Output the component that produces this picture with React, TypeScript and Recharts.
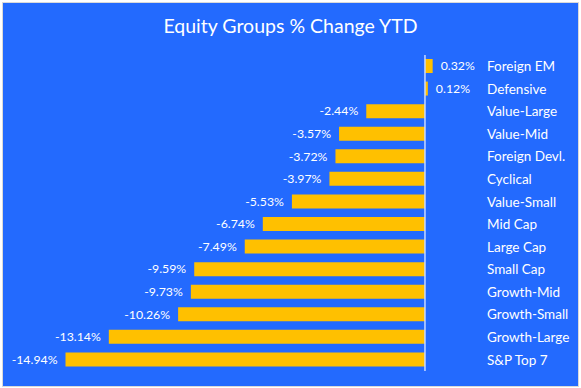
import React from 'react';
import { BarChart, Bar, XAxis, YAxis, ReferenceLine, LabelList } from 'recharts';

const categories = [
  'Foreign EM', 'Defensive', 'Value-Large', 'Value-Mid', 'Foreign Devl.', 'Cyclical',
  'Value-Small', 'Mid Cap', 'Large Cap', 'Small Cap', 'Growth-Mid', 'Growth-Small',
  'Growth-Large', 'S&P Top 7',
];
const values = [0.32, 0.12, -2.44, -3.57, -3.72, -3.97, -5.53, -6.74, -7.49, -9.59, -9.73, -10.26, -13.14, -14.94];
const title = 'Equity Groups % Change YTD';

const data = categories.map((name, i) => ({ name, value: values[i] }));

const FONT = 'Lato, "Open Sans", sans-serif';

const ValueLabel = (props: any) => {
  const { x, y, width, height, value } = props;
  const left = Math.min(x, x + width);
  const right = Math.max(x, x + width);
  const cy = y + height / 2;
  const pos = value >= 0;
  return (
    <text
      x={pos ? right + 8 : left - 8}
      y={cy}
      dy="0.35em"
      textAnchor={pos ? 'start' : 'end'}
      fill="#ffffff"
      fontSize={12.3}
      fontFamily={FONT}
    >
      {value.toFixed(2) + '%'}
    </text>
  );
};

export default function App() {
  return (
    <div style={{ position: 'fixed', left: 0, top: 0, width: 581, height: 388, background: '#ffffff' }}>
      <div
        style={{
          position: 'absolute', left: 2, top: 2, width: 575, height: 383,
          border: '1px solid #d9d9d9', background: '#236AFE',
        }}
      />
      <div
        style={{
          position: 'absolute', left: 0, top: 14, width: 581, textAlign: 'center',
          color: '#ffffff', fontFamily: FONT, fontSize: 19.5,
        }}
      >
        {title}
      </div>
      <div style={{ position: 'absolute', left: 0, top: 0 }}>
        <BarChart
          width={581}
          height={388}
          data={data}
          layout="vertical"
          margin={{ top: 55, right: 0, bottom: 17, left: 40 }}
          barCategoryGap={0}
        >
          <XAxis type="number" domain={[-16, 0.5]} hide allowDataOverflow />
          <YAxis
            type="category"
            dataKey="name"
            orientation="right"
            width={144}
            axisLine={false}
            tickLine={false}
            tickMargin={44}
            interval={0}
            tick={{ fill: '#ffffff', fontSize: 13.5, fontFamily: FONT, textAnchor: 'start' }}
          />
          <ReferenceLine x={0} stroke="#c9d9ff" strokeWidth={1.5} ifOverflow="extendDomain" />
          <Bar dataKey="value" fill="#FFC000" barSize={14} isAnimationActive={false}>
            <LabelList dataKey="value" content={<ValueLabel />} />
          </Bar>
        </BarChart>
      </div>
    </div>
  );
}
